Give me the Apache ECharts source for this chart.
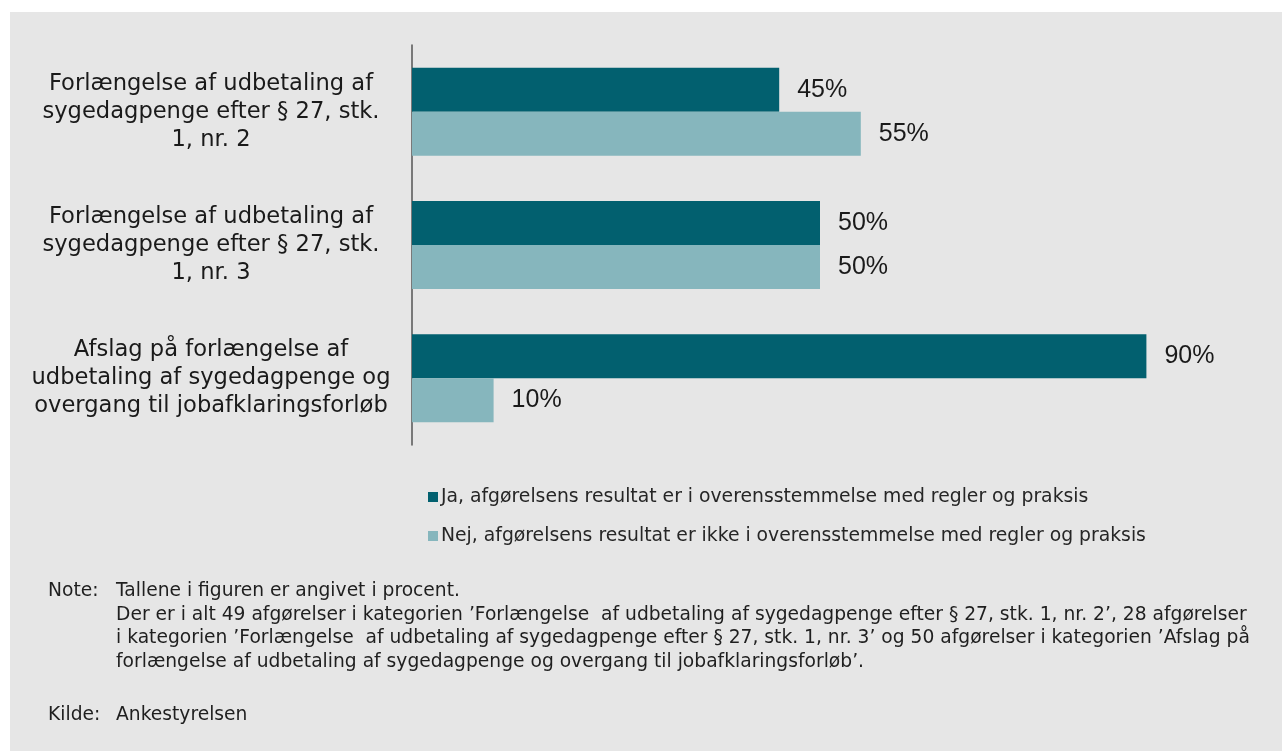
<!DOCTYPE html>
<html><head><meta charset="utf-8">
<script src="https://cdn.jsdelivr.net/npm/echarts@6/dist/echarts.min.js"></script>
<style>html,body{margin:0;padding:0;background:#fff;}#c{width:1282px;height:751px;}</style>
</head><body><div id="c"></div>
<script>
const categories = [
  'Forlængelse af udbetaling af\nsygedagpenge efter § 27, stk.\n1, nr. 2',
  'Forlængelse af udbetaling af\nsygedagpenge efter § 27, stk.\n1, nr. 3',
  'Afslag på forlængelse af\nudbetaling af sygedagpenge og\novergang til jobafklaringsforløb'
];
const seriesNames = [
  'Ja, afgørelsens resultat er i overensstemmelse med regler og praksis',
  'Nej, afgørelsens resultat er ikke i overensstemmelse med regler og praksis'
];
const jaValues = [45, 50, 90];
const nejValues = [55, 50, 10];
const noteLines = [
  'Tallene i figuren er angivet i procent.',
  'Der er i alt 49 afgørelser i kategorien ’Forlængelse  af udbetaling af sygedagpenge efter § 27, stk. 1, nr. 2’, 28 afgørelser',
  'i kategorien ’Forlængelse  af udbetaling af sygedagpenge efter § 27, stk. 1, nr. 3’ og 50 afgørelser i kategorien ’Afslag på',
  'forlængelse af udbetaling af sygedagpenge og overgang til jobafklaringsforløb’.'
];
const sourceText = 'Ankestyrelsen';

const FONT = '"DejaVu Sans", Verdana, sans-serif';
const chart = echarts.init(document.getElementById('c'), null, {renderer: 'canvas'});
const noteFont = {fontFamily: FONT, fontSize: 18.7, fill: '#1f1f1f'};
const graphics = [
  {type: 'rect', z: -10, silent: true, shape: {x: 10, y: 12, width: 1272, height: 739}, style: {fill: '#e6e6e6'}},
  {type: 'text', left: 48, top: 582, style: Object.assign({text: 'Note:'}, noteFont)}
];
noteLines.forEach((t, i) => {
  graphics.push({type: 'text', left: 116, top: 582 + i * 23.5, style: Object.assign({text: t}, noteFont)});
});
graphics.push({type: 'text', left: 48, top: 706, style: Object.assign({text: 'Kilde:'}, noteFont)});
graphics.push({type: 'text', left: 116, top: 706, style: Object.assign({text: sourceText}, noteFont)});

chart.setOption({
  animation: false,
  backgroundColor: '#ffffff',
  graphic: graphics,
  grid: {left: 412, top: 45, width: 816, height: 400, containLabel: false},
  legend: {
    orient: 'vertical', left: 423, top: 482, itemGap: 19,
    itemWidth: 10, itemHeight: 10, icon: 'rect',
    textStyle: {fontFamily: FONT, fontSize: 18.8, lineHeight: 20, color: '#262626', padding: [0, 0, 0, -2]},
    data: seriesNames
  },
  xAxis: {type: 'value', min: 0, max: 100, show: false, splitLine: {show: false}},
  yAxis: {
    type: 'category', inverse: true, data: categories,
    axisLine: {show: true, lineStyle: {color: '#555555', width: 1.5}},
    axisTick: {show: false},
    axisLabel: {
      margin: 201, align: 'center', lineHeight: 28,
      fontFamily: FONT, fontSize: 22.6, color: '#1a1a1a'
    }
  },
  series: [
    {
      name: seriesNames[0], type: 'bar', data: jaValues,
      barGap: '0%', barCategoryGap: '34%',
      itemStyle: {color: '#02606f'},
      label: {show: true, position: 'right', distance: 18, formatter: '{c}%',
        fontFamily: '"Liberation Sans", Arial, sans-serif', fontSize: 25, color: '#1a1a1a'}
    },
    {
      name: seriesNames[1], type: 'bar', data: nejValues,
      barGap: '0%', barCategoryGap: '34%',
      itemStyle: {color: '#86b6bd'},
      label: {show: true, position: 'right', distance: 18, formatter: '{c}%',
        fontFamily: '"Liberation Sans", Arial, sans-serif', fontSize: 25, color: '#1a1a1a'}
    }
  ]
});
</script>
</body></html>
